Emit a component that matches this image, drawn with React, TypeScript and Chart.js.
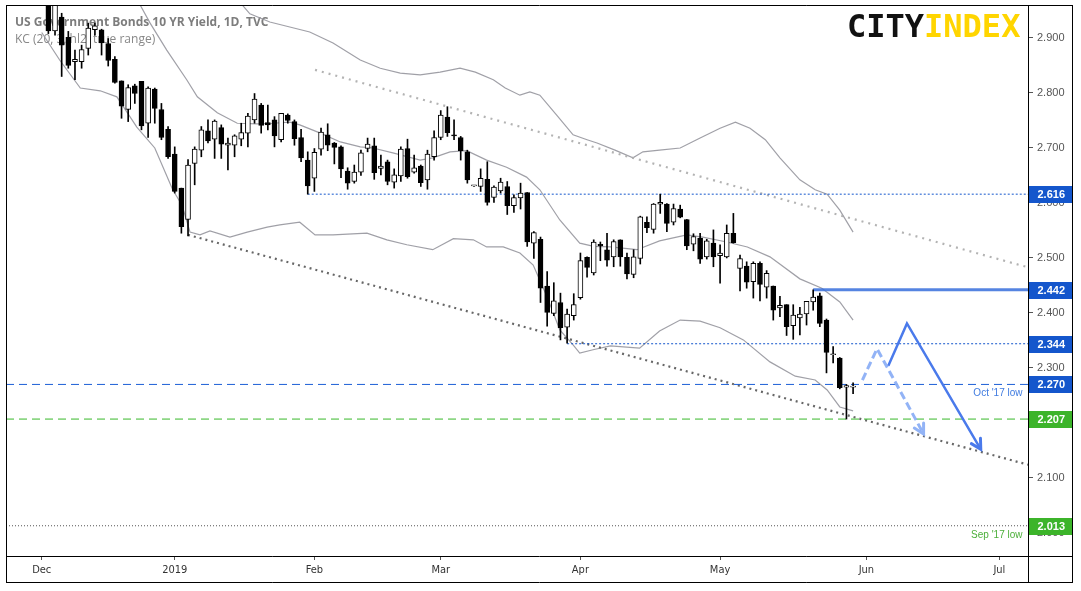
import React, { useEffect, useRef } from 'react';
import { Chart, registerables } from 'chart.js';

Chart.register(...registerables);

// ---- Candles (bar index 0 = 3 Dec 2018, trading days only) ----
const openV = [2.990,2.990,2.913,2.938,2.901,2.857,2.857,2.881,2.915,2.915,2.890,2.861,2.822,2.770,2.813,2.821,2.745,2.807,2.770,2.734,2.689,2.627,2.570,2.672,2.696,2.731,2.716,2.737,2.705,2.705,2.716,2.727,2.751,2.778,2.746,2.751,2.715,2.760,2.748,2.719,2.678,2.645,2.698,2.724,2.709,2.702,2.658,2.639,2.656,2.699,2.704,2.663,2.675,2.638,2.649,2.699,2.656,2.667,2.642,2.684,2.719,2.756,2.724,2.719,2.693,2.631,2.630,2.643,2.610,2.622,2.630,2.595,2.609,2.619,2.527,2.534,2.449,2.399,2.419,2.374,2.395,2.428,2.501,2.473,2.525,2.515,2.502,2.533,2.501,2.470,2.499,2.565,2.552,2.598,2.598,2.565,2.589,2.570,2.525,2.536,2.502,2.527,2.504,2.502,2.545,2.481,2.485,2.457,2.490,2.447,2.449,2.409,2.415,2.377,2.391,2.398,2.420,2.431,2.387,2.324,2.318,2.265,2.265];
const highV = [3.005,2.995,2.985,2.945,2.912,2.878,2.887,2.927,2.927,2.916,2.899,2.866,2.822,2.815,2.816,2.821,2.811,2.809,2.781,2.739,2.702,2.627,2.679,2.702,2.739,2.751,2.751,2.742,2.718,2.724,2.745,2.763,2.799,2.781,2.778,2.757,2.763,2.762,2.751,2.734,2.693,2.699,2.736,2.744,2.710,2.704,2.664,2.669,2.696,2.718,2.718,2.687,2.678,2.662,2.702,2.716,2.687,2.669,2.696,2.731,2.768,2.775,2.751,2.721,2.696,2.632,2.662,2.675,2.631,2.645,2.639,2.615,2.636,2.619,2.548,2.538,2.475,2.455,2.436,2.407,2.435,2.509,2.502,2.533,2.529,2.545,2.533,2.533,2.509,2.515,2.576,2.575,2.599,2.616,2.599,2.598,2.596,2.570,2.544,2.545,2.534,2.551,2.524,2.560,2.581,2.505,2.493,2.493,2.493,2.477,2.449,2.430,2.415,2.415,2.410,2.421,2.442,2.436,2.389,2.339,2.319,2.270,2.273];
const lowV = [2.970,2.908,2.905,2.830,2.845,2.824,2.845,2.869,2.905,2.869,2.849,2.818,2.754,2.748,2.781,2.733,2.719,2.745,2.715,2.681,2.618,2.545,2.540,2.633,2.684,2.709,2.681,2.681,2.660,2.684,2.704,2.702,2.745,2.727,2.733,2.702,2.711,2.745,2.705,2.675,2.616,2.621,2.687,2.695,2.671,2.646,2.625,2.636,2.650,2.693,2.643,2.651,2.633,2.627,2.639,2.645,2.654,2.630,2.625,2.678,2.715,2.721,2.715,2.678,2.636,2.630,2.621,2.596,2.601,2.618,2.579,2.583,2.589,2.521,2.499,2.419,2.376,2.395,2.351,2.345,2.387,2.425,2.465,2.469,2.495,2.485,2.484,2.485,2.462,2.464,2.489,2.546,2.545,2.581,2.548,2.560,2.573,2.515,2.513,2.490,2.498,2.484,2.454,2.500,2.527,2.440,2.445,2.427,2.422,2.427,2.387,2.393,2.359,2.352,2.360,2.378,2.405,2.375,2.291,2.309,2.262,2.207,2.253];
const closeV = [2.985,2.913,2.975,2.887,2.850,2.861,2.879,2.918,2.922,2.891,2.859,2.819,2.776,2.810,2.799,2.740,2.809,2.772,2.719,2.684,2.621,2.557,2.669,2.698,2.733,2.713,2.749,2.707,2.709,2.722,2.728,2.758,2.789,2.741,2.742,2.722,2.763,2.750,2.717,2.682,2.631,2.692,2.729,2.705,2.701,2.662,2.636,2.656,2.691,2.707,2.655,2.667,2.639,2.651,2.698,2.648,2.664,2.637,2.689,2.719,2.760,2.728,2.722,2.695,2.642,2.631,2.645,2.601,2.629,2.638,2.595,2.610,2.618,2.529,2.546,2.445,2.401,2.422,2.373,2.398,2.415,2.495,2.483,2.529,2.522,2.496,2.530,2.502,2.471,2.502,2.575,2.555,2.598,2.601,2.563,2.590,2.574,2.522,2.539,2.498,2.531,2.502,2.509,2.545,2.528,2.499,2.456,2.490,2.452,2.472,2.405,2.414,2.375,2.396,2.398,2.421,2.429,2.381,2.328,2.324,2.264,2.268,2.265];

// ---- Keltner channel (bar index / value) ----
const kcUpperIdx = [27,29.8,31.3,34.3,37.3,40.3,43.8,47.9,50.9,53.9,56.9,59.9,62.9,65.2,67.9,69.7,71.9,73.4,74.9,77.4,79.9,82,83.5,86.2,88.9,90.4,92.9,96,99,102,104.3,106.5,108.8,111,114,116.3,118.1,120,122];
const kcUpperVal = [3.000,2.965,2.944,2.929,2.920,2.911,2.891,2.860,2.845,2.836,2.833,2.838,2.845,2.838,2.824,2.809,2.796,2.802,2.796,2.760,2.724,2.715,2.709,2.696,2.682,2.693,2.696,2.700,2.718,2.736,2.747,2.736,2.715,2.682,2.642,2.624,2.616,2.587,2.547];
const kcMidIdx = [12,14.8,16.3,18.8,21.8,23.4,26.4,29.4,32.4,34.8,37.3,38.8,41.9,44.9,47.9,49.8,52.8,56.9,58.8,61.4,63.9,66.9,69.9,72.9,74.9,77.9,80.9,83,85.5,89.5,92.9,97,99.4,103,106.1,109.5,114,117.3,120,122];
const kcMidVal = [3.030,2.960,2.927,2.878,2.824,2.793,2.764,2.745,2.744,2.745,2.747,2.742,2.727,2.711,2.702,2.700,2.691,2.678,2.682,2.693,2.695,2.678,2.665,2.647,2.624,2.569,2.527,2.521,2.520,2.515,2.531,2.542,2.538,2.529,2.520,2.502,2.462,2.445,2.420,2.387];
const kcLowerIdx = [0,2.7,5.8,8.8,11.3,14.3,17,19.7,21.1,22.3,23.8,25.3,28.3,30.9,33.9,35.8,38.8,41.1,43.8,48.9,51.9,54.9,58.8,61.9,64.9,66.9,69.4,71.9,73.9,76,77.9,79.9,80.9,82.9,85.5,89.9,92.9,96,99,102,105.5,109.5,113.3,116.3,118.1,120,122];
const kcLowerVal = [2.910,2.860,2.809,2.804,2.793,2.738,2.700,2.624,2.596,2.547,2.542,2.549,2.538,2.547,2.556,2.560,2.565,2.542,2.542,2.545,2.533,2.524,2.515,2.535,2.533,2.520,2.520,2.509,2.487,2.429,2.369,2.342,2.327,2.333,2.340,2.336,2.367,2.387,2.385,2.373,2.351,2.311,2.285,2.278,2.260,2.229,2.222];

// ---- Axes ----
const X_MIN = -5.37;
const X_MAX = 148.3;
const Y_MIN = 1.958;
const Y_MAX = 2.960;
const monthTickIdx = [0, 20, 41, 60, 81, 102, 124, 144];
const monthTickLabels = ['Dec', '2019', 'Feb', 'Mar', 'Apr', 'May', 'Jun', 'Jul'];
const yTickVals = [2.0, 2.1, 2.2, 2.3, 2.4, 2.5, 2.6, 2.7, 2.8, 2.9];

// ---- Trend lines ----
const resistIdx = [41.1, 148.3];
const resistVal = [2.842, 2.483];
const supportIdx = [22, 148.3];
const supportVal = [2.542, 2.124];

// ---- Horizontal levels ----
const levelVals = [2.616, 2.442, 2.344, 2.270, 2.207, 2.013];
const levelFrom = [40, 116, 79, X_MIN, X_MIN, X_MIN];
const levelNotes = ['', '', '', "Oct '17 low", '', "Sep '17 low"];

// ---- Projection arrows ----
const altPathIdx = [123.4, 125.6, 132.6];
const altPathVal = [2.278, 2.335, 2.180];
const mainPathIdx = [127.3, 130.1, 141.2];
const mainPathVal = [2.304, 2.381, 2.152];

const TITLE = 'US Government Bonds 10 YR Yield, 1D, TVC';
const SUBTITLE = 'KC (20, 3, hl2, true range)';

const BLUE = '#1456cc';
const GREEN = '#3cb42a';
const levelStyles = [
  { color: BLUE, dash: [2, 2], width: 1, box: BLUE },
  { color: 'rgba(55,110,220,0.85)', dash: [], width: 3, box: BLUE },
  { color: BLUE, dash: [2, 2], width: 1, box: BLUE },
  { color: '#1c5fd6', dash: [8, 5], width: 1, box: BLUE },
  { color: '#38b82a', dash: [8, 5], width: 1, box: GREEN },
  { color: '#555', dash: [1, 2], width: 1, box: GREEN },
];

const pts = (xs: number[], ys: number[]) => xs.map((x, i) => ({ x, y: ys[i] }));

export default function App() {
  const ref = useRef<HTMLCanvasElement | null>(null);

  useEffect(() => {
    const canvas = ref.current;
    if (!canvas) return;

    const isUp = openV.map((o, i) => closeV[i] >= o);

    const datasets: any[] = [];
    // bands
    [
      [kcUpperIdx, kcUpperVal],
      [kcMidIdx, kcMidVal],
      [kcLowerIdx, kcLowerVal],
    ].forEach(([xs, ys]) => {
      datasets.push({
        type: 'line',
        data: pts(xs as number[], ys as number[]),
        borderColor: 'rgba(155,155,162,0.95)',
        borderWidth: 1.2,
        pointRadius: 0,
        tension: 0,
        fill: false,
        order: 6,
      });
    });
    // trend lines
    datasets.push({
      type: 'line',
      data: pts(resistIdx, resistVal),
      borderColor: 'rgba(175,175,175,0.95)',
      borderWidth: 2.2,
      borderDash: [2, 5],
      pointRadius: 0,
      order: 5,
    });
    datasets.push({
      type: 'line',
      data: pts(supportIdx, supportVal),
      borderColor: 'rgba(95,95,95,0.95)',
      borderWidth: 2.2,
      borderDash: [2, 4],
      pointRadius: 0,
      order: 5,
    });
    // levels
    levelVals.forEach((v, i) => {
      const st = levelStyles[i];
      datasets.push({
        type: 'line',
        data: [
          { x: levelFrom[i], y: v },
          { x: X_MAX, y: v },
        ],
        borderColor: st.color,
        borderWidth: st.width,
        borderDash: st.dash,
        pointRadius: 0,
        order: 4,
      });
    });
    // wicks
    datasets.push({
      type: 'bar',
      data: highV.map((h, i) => ({ x: i, y: [lowV[i], h] })),
      backgroundColor: '#000',
      borderWidth: 0,
      barThickness: 1,
      grouped: false,
      order: 3,
    });
    // bodies
    datasets.push({
      type: 'bar',
      data: openV.map((o, i) => ({ x: i, y: [o, closeV[i]] })),
      backgroundColor: isUp.map((u) => (u ? '#ffffff' : '#000000')),
      borderColor: '#000',
      borderWidth: 1,
      borderSkipped: false,
      barThickness: 5,
      minBarLength: 1,
      grouped: false,
      order: 2,
    });
    // arrows
    datasets.push({
      type: 'line',
      data: pts(altPathIdx, altPathVal),
      borderColor: 'rgba(140,175,245,0.95)',
      borderWidth: 3,
      borderDash: [8, 4],
      pointRadius: 0,
      order: 1,
    });
    datasets.push({
      type: 'line',
      data: pts(mainPathIdx, mainPathVal),
      borderColor: 'rgb(74,122,235)',
      borderWidth: 2.5,
      pointRadius: 0,
      order: 0,
    });
    const altIndex = datasets.length - 2;
    const mainIndex = datasets.length - 1;

    const overlay = {
      id: 'overlay',
      beforeDatasetsDraw(chart: any) {
        const ctx = chart.ctx;
        ctx.save();
        ctx.textBaseline = 'middle';
        ctx.textAlign = 'left';
        ctx.fillStyle = '#7d7d7d';
        ctx.font = 'bold 12px "Open Sans", "Liberation Sans", sans-serif';
        ctx.fillText(TITLE, 15, 23);
        ctx.fillStyle = '#888';
        ctx.font = '12px "Open Sans", "Liberation Sans", sans-serif';
        ctx.fillText(SUBTITLE, 15, 40);
        // logo
        ctx.textBaseline = 'alphabetic';
        ctx.font = 'bold 32px "DejaVu Sans Mono", monospace';
        ctx.fillStyle = '#111';
        ctx.fillText('CITY', 847, 37);
        const w = ctx.measureText('CITY').width;
        ctx.fillStyle = '#ffd500';
        ctx.fillText('INDEX', 847 + w, 37);
        ctx.restore();
      },
      afterDraw(chart: any) {
        const ctx = chart.ctx;
        const xs = chart.scales.x;
        const ys = chart.scales.y;
        const area = chart.chartArea;
        ctx.save();
        // arrow heads
        const head = (dsIndex: number, color: string, lw: number) => {
          const meta = chart.getDatasetMeta(dsIndex);
          const p = meta.data;
          const a = p[p.length - 2];
          const b = p[p.length - 1];
          const ang = Math.atan2(b.y - a.y, b.x - a.x);
          const L = 11;
          ctx.strokeStyle = color;
          ctx.lineWidth = lw;
          ctx.setLineDash([]);
          ctx.lineCap = 'round';
          ctx.beginPath();
          ctx.moveTo(b.x - L * Math.cos(ang - 0.5), b.y - L * Math.sin(ang - 0.5));
          ctx.lineTo(b.x, b.y);
          ctx.lineTo(b.x - L * Math.cos(ang + 0.5), b.y - L * Math.sin(ang + 0.5));
          ctx.stroke();
        };
        head(altIndex, 'rgba(140,175,245,0.95)', 3);
        head(mainIndex, 'rgb(74,122,235)', 3);

        // frame
        ctx.strokeStyle = '#000';
        ctx.lineWidth = 1;
        const L0 = area.left + 0.5;
        const R0 = Math.round(xs.right) + 0.5;
        const axR = Math.round(ys.right) - 0.5;
        const T0 = area.top + 0.5;
        const B0 = Math.round(area.bottom) + 0.5;
        const B1 = Math.round(xs.bottom) - 0.5;
        ctx.beginPath();
        ctx.moveTo(L0, T0); ctx.lineTo(axR, T0);
        ctx.moveTo(L0, B0); ctx.lineTo(axR, B0);
        ctx.moveTo(L0, B1); ctx.lineTo(axR, B1);
        ctx.moveTo(L0, T0); ctx.lineTo(L0, B1);
        ctx.moveTo(R0, T0); ctx.lineTo(R0, B1);
        ctx.moveTo(axR, T0); ctx.lineTo(axR, B1);
        ctx.stroke();

        // level labels
        levelVals.forEach((v, i) => {
          const y = ys.getPixelForValue(v);
          ctx.fillStyle = levelStyles[i].box;
          ctx.fillRect(R0 + 0.5, Math.round(y) - 8, axR - R0 - 1, 17);
          ctx.fillStyle = '#fff';
          ctx.font = 'bold 11px "Liberation Sans", Arial, sans-serif';
          ctx.textAlign = 'left';
          ctx.textBaseline = 'middle';
          ctx.fillText(v.toFixed(3), R0 + 9, Math.round(y) + 0.5);
          if (levelNotes[i]) {
            ctx.font = '10px "Liberation Sans", Arial, sans-serif';
            ctx.fillStyle = i === 5 ? '#4caf3a' : '#3f7be0';
            ctx.textAlign = 'right';
            ctx.fillText(levelNotes[i], R0 - 6, y + 9);
          }
        });
        ctx.restore();
      },
    };

    const chart = new Chart(canvas, {
      type: 'bar',
      data: { datasets },
      options: {
        responsive: false,
        animation: false,
        events: [],
        layout: { padding: { left: 6, top: 5, right: 8, bottom: 8 } },
        plugins: { legend: { display: false }, tooltip: { enabled: false } },
        scales: {
          x: {
            type: 'linear',
            min: X_MIN,
            max: X_MAX,
            offset: false,
            afterBuildTicks: (s: any) => {
              s.ticks = monthTickIdx.map((v) => ({ value: v }));
            },
            afterFit: (s: any) => {
              s.height = 27;
              s.paddingLeft = 0;
              s.paddingRight = 0;
            },
            ticks: {
              autoSkip: false,
              maxRotation: 0,
              padding: 4,
              color: '#333',
              font: { family: '"DejaVu Sans Condensed", "Liberation Sans", sans-serif', size: 11 },
              callback: (_v: any, i: number) => monthTickLabels[i],
            },
            grid: { offset: false, drawOnChartArea: false, drawTicks: true, tickLength: 4, color: '#555' },
            border: { display: false },
          },
          y: {
            type: 'linear',
            position: 'right',
            min: Y_MIN,
            max: Y_MAX,
            afterBuildTicks: (s: any) => {
              s.ticks = yTickVals.map((v) => ({ value: v }));
            },
            afterFit: (s: any) => {
              s.width = 45;
              s.paddingTop = 0;
              s.paddingBottom = 0;
            },
            ticks: {
              padding: 4,
              color: '#555',
              font: { family: '"Liberation Sans", Arial, sans-serif', size: 11 },
              callback: (v: any) => Number(v).toFixed(3),
            },
            grid: { offset: false, drawOnChartArea: false, drawTicks: true, tickLength: 5, color: '#555' },
            border: { display: false },
          },
        },
      } as any,
      plugins: [overlay],
    });

    return () => chart.destroy();
  }, []);

  return (
    <div style={{ position: 'fixed', left: 0, top: 0, width: 1081, height: 591, background: '#fff' }}>
      <canvas ref={ref} width={1081} height={591} style={{ display: 'block', width: 1081, height: 591 }} />
    </div>
  );
}
